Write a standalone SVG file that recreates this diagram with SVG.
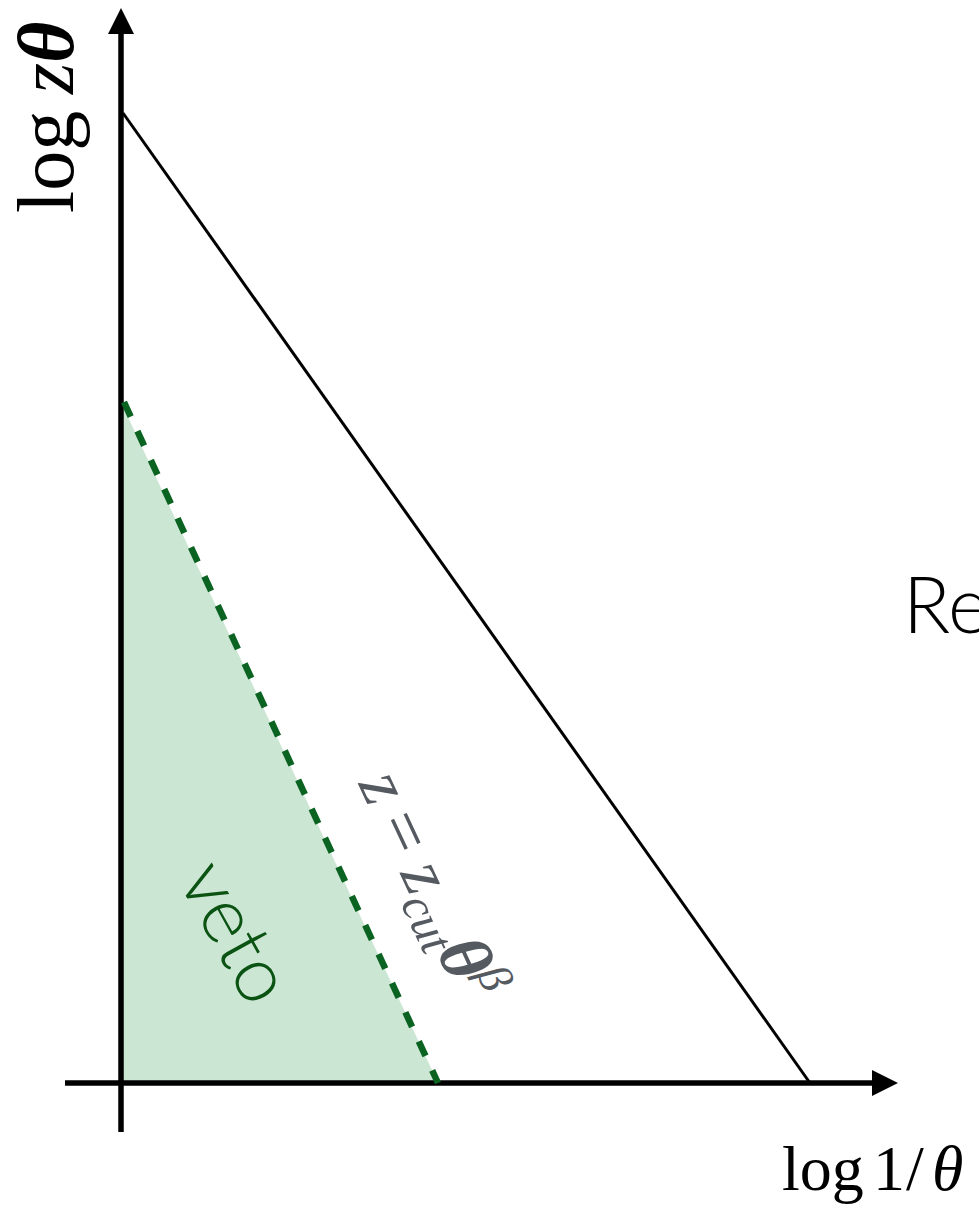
<svg xmlns="http://www.w3.org/2000/svg" width="979" height="1206" viewBox="0 0 979 1206">
<style>
.serif{font-family:"Liberation Serif","Times New Roman",serif;}
.sans{font-family:Lato,"Open Sans",sans-serif;font-weight:300;}
.axis{stroke:#000;stroke-width:5.5;fill:none;}
</style>
<rect width="979" height="1206" fill="#fff"/>
<g id="veto-region">
<polygon points="121,402 438,1083 121,1083" fill="#cce6d4"/>
</g>
<g id="connectors">
<line class="axis" x1="121" y1="1132" x2="121" y2="30"/>
<polygon points="121,8 108,34 134,34" fill="#000"/>
<line class="axis" x1="65" y1="1083" x2="876" y2="1083"/>
<polygon points="898,1083 872,1070 872,1096" fill="#000"/>
<line x1="123" y1="113" x2="810" y2="1083" stroke="#000" stroke-width="3"/>
<line x1="124" y1="402" x2="438" y2="1083" stroke="#0b6321" stroke-width="6.5" stroke-dasharray="16 16"/>
</g>
<g id="label-y">
<text class="serif" transform="translate(73,213) rotate(-90)" font-size="80"><tspan x="0" y="0">log</tspan><tspan x="119" font-style="italic">z</tspan><tspan x="150" font-style="italic" font-weight="bold">θ</tspan></text>
</g>
<g id="label-x">
<text class="serif" x="782" y="1190" font-size="64">log<tspan x="873">1</tspan><tspan x="906">/</tspan><tspan x="932" font-style="italic">θ</tspan></text>
</g>
<g id="label-re">
<text class="sans" x="903" y="633" font-size="78" fill="#000">Re</text>
</g>
<g id="label-veto">
<text class="sans" transform="translate(213,945) rotate(61)" text-anchor="middle" font-size="78" font-weight="400" fill="#0b5313">veto</text>
</g>
<g id="label-zcut">
<text class="serif" transform="translate(358,784) rotate(65)" font-size="70" fill="#555a61" font-style="italic">z<tspan dx="16" font-style="normal">=</tspan><tspan dx="16">z</tspan><tspan font-size="48" dy="12">cut</tspan><tspan dy="-12" font-weight="bold" font-size="72">θ</tspan><tspan font-size="46" dy="-27">β</tspan></text>
</g>
</svg>
